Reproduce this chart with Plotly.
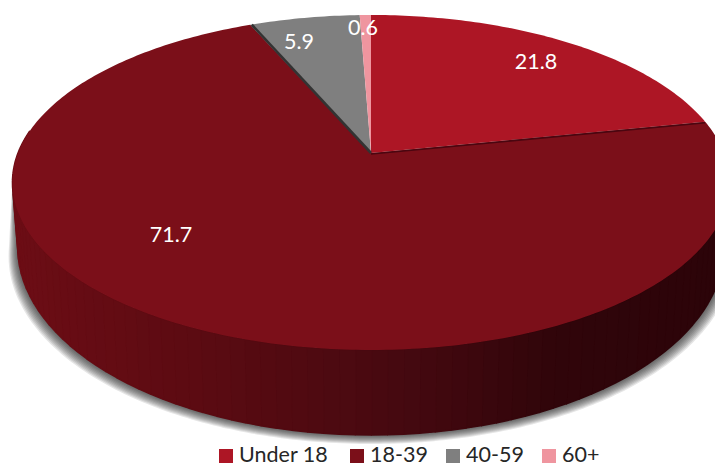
import numpy as np
import plotly.graph_objects as go

categories = ["Under 18", "18-39", "40-59", "60+"]
values = [21.8, 71.7, 5.9, 0.6]
colors = ["#AD1625", "#7B0F19", "#7F7F7F", "#EF959F"]

W, H = 715, 466
CX, CY, A, B, K = 371, 153, 353, 162.3, 0.176


def top(theta):
    X, Y = np.sin(theta), np.cos(theta)
    w = 1 + K * Y
    return CX + A * X / w, CY - B * Y / w


def base(theta, grow=0.0):
    x, y = top(theta)
    Y = np.cos(theta)
    depth = 62 + 23 * np.clip(-Y, 0, 1) ** 1.2
    return CX + (x - CX) * (0.985 + grow / 350), y + depth + grow


fig = go.Figure()

# soft shadow beneath the wall
th = np.linspace(np.radians(100), np.radians(262), 200)
for g in [9, 8, 7, 6, 5, 4, 3, 2, 1]:
    bx, by = base(th, g)
    tx, ty = top(th[::-1])
    fig.add_trace(go.Scatter(x=np.r_[bx, tx], y=np.r_[by, ty], fill="toself",
                             mode="none", fillcolor="rgba(30,30,30,0.11)",
                             hoverinfo="skip", showlegend=False))

# solid backing so that no light seams show between wall bands
edges = np.linspace(np.radians(84), np.radians(278), 90)
tx, ty = top(edges)
bx, by = base(edges)
fig.add_trace(go.Scatter(x=np.r_[tx, bx[::-1]], y=np.r_[ty, by[::-1]], fill="toself",
                         mode="none", fillcolor="#40070D", hoverinfo="skip", showlegend=False))

# side wall, shaded left to right
stops = [15, 190, 400, 560, 715]
for t0, t1 in zip(edges[:-1], edges[1:]):
    seg = np.linspace(t0, t1, 4)
    tx, ty = top(seg)
    bx, by = base(seg)
    mx = float(tx.mean())
    r = np.interp(mx, stops, [0x6C, 0x5C, 0x46, 0x30, 0x2C])
    g_ = np.interp(mx, stops, [0x0D, 0x0B, 0x09, 0x05, 0x04])
    b_ = np.interp(mx, stops, [0x15, 0x12, 0x10, 0x0A, 0x09])
    col = f"rgb({r:.0f},{g_:.0f},{b_:.0f})"
    fig.add_trace(go.Scatter(x=np.r_[tx, bx[::-1]], y=np.r_[ty, by[::-1]], fill="toself",
                             mode="lines", line=dict(color=col, width=1.5), fillcolor=col,
                             hoverinfo="skip", showlegend=False))

# top face wedges
cum = np.r_[0, np.cumsum(values)] / sum(values) * 2 * np.pi
for i, name in enumerate(categories):
    t = np.linspace(cum[i], cum[i + 1], max(int(values[i] * 4), 6))
    x, y = top(t)
    fig.add_trace(go.Scatter(x=np.r_[CX, x, CX], y=np.r_[CY, y, CY], fill="toself", mode="none",
                             fillcolor=colors[i], hoverinfo="text", text=f"{name}: {values[i]}",
                             showlegend=False))

# dark edges of the cut slices
for ang, col, wid, dx, dy in [(cum[1], "#4A0610", 1.6, 0, 1.0), (cum[2], "#333333", 2.6, 1.5, 0.0)]:
    ex, ey = top(ang)
    fig.add_trace(go.Scatter(x=[CX, ex + dx], y=[CY + dy, ey + dy], mode="lines",
                             line=dict(color=col, width=wid), hoverinfo="skip", showlegend=False))

# value labels
label_x = [536, 171, 299, 363]
label_y = [64, 237, 44, 30]
fig.add_trace(go.Scatter(x=label_x, y=label_y, mode="text", text=[str(v) for v in values],
                         textfont=dict(family="Lato", size=21.5, color="white"),
                         hoverinfo="skip", showlegend=False))

# legend row
legend_x = [226, 357, 453, 549]
fig.add_trace(go.Scatter(x=legend_x, y=[456] * 4, mode="markers",
                         marker=dict(symbol="square", size=14, color=colors),
                         hoverinfo="skip", showlegend=False))
fig.add_trace(go.Scatter(x=[v + 13 for v in legend_x], y=[456.5] * 4, mode="text", text=categories,
                         textposition="middle right",
                         textfont=dict(family="Lato", size=21.5, color="#262626"),
                         hoverinfo="skip", showlegend=False))

fig.update_layout(
    width=W, height=H, margin=dict(l=0, r=0, t=0, b=0),
    paper_bgcolor="white", plot_bgcolor="white", showlegend=False,
    xaxis=dict(range=[0, W], visible=False, fixedrange=True),
    yaxis=dict(range=[H, 0], visible=False, fixedrange=True),
)
fig.write_html("out.html", config={"displayModeBar": False},
               post_script="document.body.style.margin='0';document.body.style.overflow='hidden';")
